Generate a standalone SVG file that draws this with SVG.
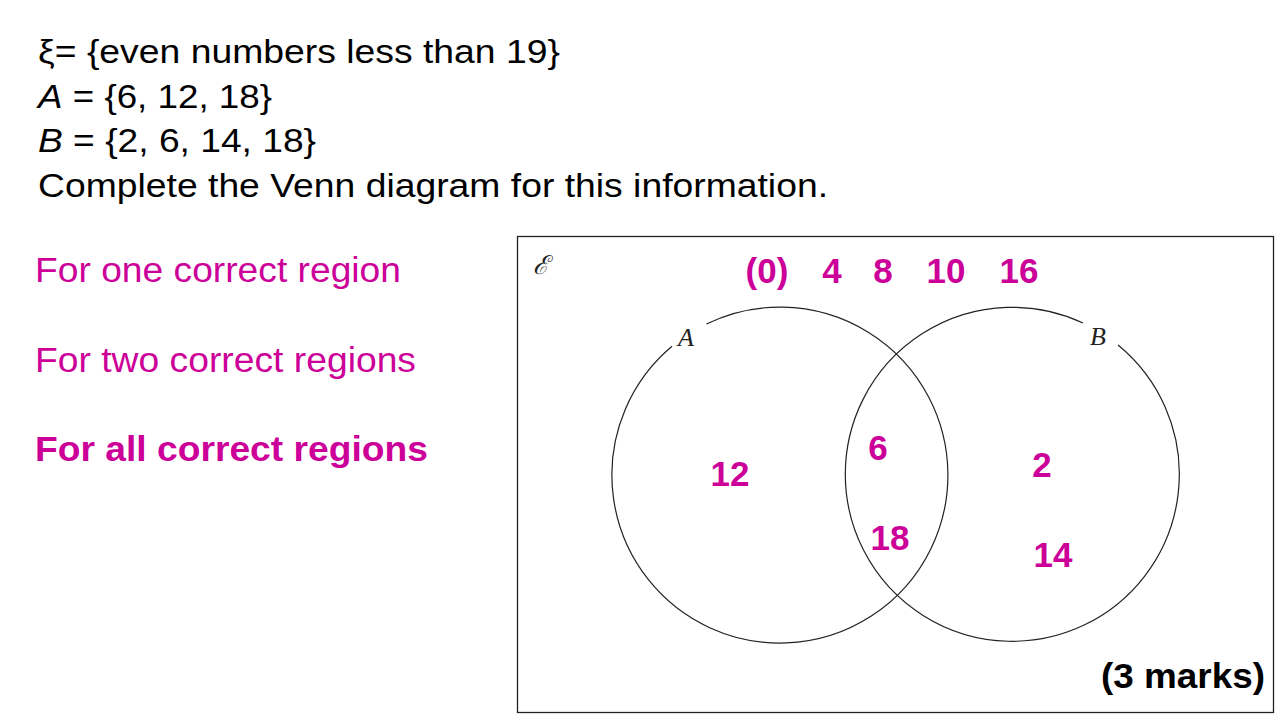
<svg xmlns="http://www.w3.org/2000/svg" width="1280" height="720" viewBox="0 0 1280 720">
<style>
.q{font-family:"Liberation Sans",Arial,sans-serif;font-size:34px;fill:#000}
.m{font-family:"Liberation Sans",Arial,sans-serif;font-size:35px;fill:#CC0099}
.b{font-weight:bold}
.n{font-family:"Liberation Sans",Arial,sans-serif;font-size:35px;font-weight:bold;fill:#CC0099;text-anchor:middle}
.lab{font-family:"Liberation Serif","DejaVu Serif",serif;font-style:italic;font-size:26px;fill:#222}
.c{fill:none;stroke:#222;stroke-width:1.2}
</style>
<rect width="1280" height="720" fill="#fff"/>
<g id="question">
<text class="q" x="38" y="63" textLength="522" lengthAdjust="spacingAndGlyphs">ξ= {even numbers less than 19}</text>
<text class="q" x="38" y="108" textLength="234" lengthAdjust="spacingAndGlyphs"><tspan font-style="italic">A</tspan> = {6, 12, 18}</text>
<text class="q" x="38" y="152" textLength="278" lengthAdjust="spacingAndGlyphs"><tspan font-style="italic">B</tspan> = {2, 6, 14, 18}</text>
<text class="q" x="38" y="197" textLength="790" lengthAdjust="spacingAndGlyphs">Complete the Venn diagram for this information.</text>
</g>
<g id="marking">
<text class="m" x="35" y="282" textLength="366" lengthAdjust="spacingAndGlyphs">For one correct region</text>
<text class="m" x="35" y="372" textLength="381" lengthAdjust="spacingAndGlyphs">For two correct regions</text>
<text class="m b" x="35" y="461" textLength="393" lengthAdjust="spacingAndGlyphs">For all correct regions</text>
</g>
<g id="frame">
<rect x="517.5" y="236.5" width="756" height="476" fill="none" stroke="#222" stroke-width="1.3"/>
<text class="lab" x="533" y="274" font-size="34">ℰ</text>
</g>
<g id="circleA">
<path class="c" d="M706.4,324 A168,168 0 1 1 672,346.3"/>
<text class="lab" x="678" y="346">A</text>
</g>
<g id="circleB">
<path class="c" d="M1118,345 A167,167 0 1 1 1083,323"/>
<text class="lab" x="1090" y="345">B</text>
</g>
<g id="values">
<text class="n" x="767" y="283">(0)</text>
<text class="n" x="832" y="283">4</text>
<text class="n" x="883" y="283">8</text>
<text class="n" x="946" y="283">10</text>
<text class="n" x="1019" y="283">16</text>
<text class="n" x="730" y="486">12</text>
<text class="n" x="878" y="460">6</text>
<text class="n" x="890" y="550">18</text>
<text class="n" x="1042" y="477">2</text>
<text class="n" x="1053" y="567">14</text>
</g>
<text id="marks" x="1265" y="688" font-family="Liberation Sans,Arial,sans-serif" font-size="35" font-weight="bold" text-anchor="end" fill="#000" textLength="164" lengthAdjust="spacingAndGlyphs">(3 marks)</text>
</svg>
